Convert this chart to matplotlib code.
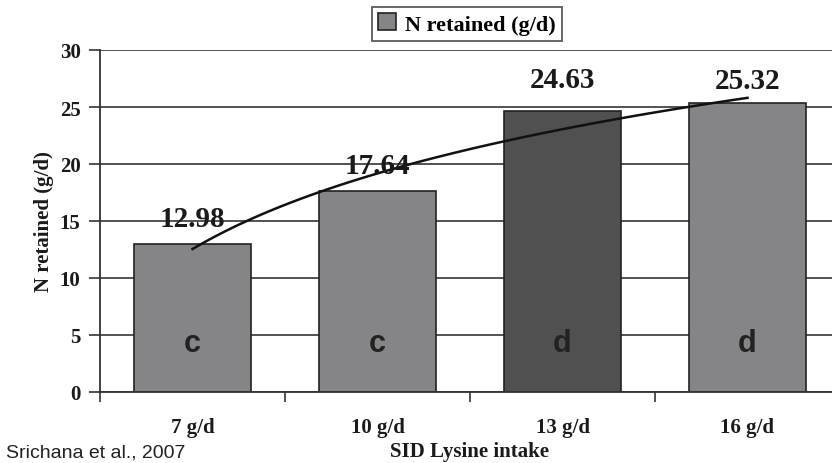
import matplotlib.pyplot as plt
import numpy as np

categories = ['7 g/d', '10 g/d', '13 g/d', '16 g/d']
n_retained = [12.98, 17.64, 24.63, 25.32]
letters = ['c', 'c', 'd', 'd']
bar_colors = ['#858588', '#858588', '#505050', '#858588']
label_gap_px = [12, 12, 18, 9]

serif = ['Liberation Serif', 'DejaVu Serif']

fig = plt.figure(figsize=(8.32, 4.64), dpi=100)
ax = fig.add_axes([100 / 832, 1 - 393 / 464, 740 / 832, 342 / 464])

x = np.arange(len(categories))
ax.bar(x, n_retained, width=0.63, color=bar_colors, edgecolor='#222222',
       linewidth=1.2, zorder=2, label='N retained (g/d)')

# log trendline (Excel style) through bar values
t = np.log(x + 1)
a, b = np.polyfit(t, n_retained, 1)
xs = np.linspace(0, 3, 100)
ax.plot(xs, a * np.log(xs + 1) + b, color='#111111', lw=1.8, zorder=4)

for xi, v, gap in zip(x, n_retained, label_gap_px):
    ax.annotate(f'{v:.2f}', (xi, v), xytext=(0, gap * 0.72), textcoords='offset points',
                ha='center', va='bottom', fontsize=21, fontweight='bold',
                family=serif, color='#1a1a1a', zorder=5)
for xi, s in zip(x, letters):
    ax.text(xi, 4.3, s, ha='center', va='center', fontsize=22, fontweight='bold',
            family='Liberation Sans', color='#222222', zorder=5)

ax.set_xlim(-0.5, 3.5)
ax.set_ylim(0, 30)
ax.set_yticks(range(0, 31, 5))
ax.set_xticks(x)
ax.set_xticklabels(categories)
ax.set_xticks(np.arange(-0.5, 4, 1), minor=True)
ax.tick_params(axis='x', which='major', length=0, pad=18)
ax.tick_params(axis='x', which='minor', length=7, width=1.2, color='#333333')
ax.tick_params(axis='y', length=8, width=1.2, color='#333333', pad=6)
for lab in ax.get_xticklabels() + ax.get_yticklabels():
    lab.set_family(serif)
    lab.set_fontweight('bold')
    lab.set_fontsize(15)
    lab.set_color('#1a1a1a')

ax.yaxis.grid(True, color='#444444', lw=1.3, zorder=0)
ax.set_axisbelow(True)
for s in ['top', 'right']:
    ax.spines[s].set_visible(False)
for s in ['left', 'bottom']:
    ax.spines[s].set_color('#333333')
    ax.spines[s].set_linewidth(1.3)

ax.set_ylabel('N retained (g/d)', family=serif, fontweight='bold', fontsize=15,
              color='#1a1a1a', labelpad=4)
fig.text(470 / 832, 1 - 452 / 464, 'SID Lysine intake', ha='center', va='center',
         family=serif, fontweight='bold', fontsize=15, color='#1a1a1a')
fig.text(6 / 832, 1 - 445 / 464, 'Srichana et al., 2007', ha='left', va='top',
         family='Liberation Sans', fontsize=14, color='#222222')

leg = ax.legend(loc='center', bbox_to_anchor=(467 / 832, 1 - 25 / 464),
                bbox_transform=fig.transFigure, frameon=True, fancybox=False,
                prop={'family': serif, 'weight': 'bold', 'size': 16},
                handlelength=0.8, handleheight=0.8, handletextpad=0.4,
                borderpad=0.3)
leg.get_frame().set_edgecolor('#333333')
leg.get_frame().set_linewidth(1.3)

fig.savefig('out.png', dpi=100)
